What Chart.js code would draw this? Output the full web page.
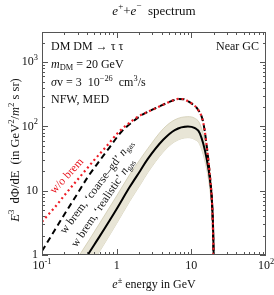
<!DOCTYPE html>
<html><head><meta charset="utf-8">
<script src="https://cdn.jsdelivr.net/npm/chart.js@4.4.1/dist/chart.umd.min.js"></script>
<style>html,body{margin:0;padding:0;background:#fff}#c{display:block}</style>
</head><body>
<canvas id="c" width="274" height="295"></canvas>
<script>
// ---- data ----
const energyNoBrem = [0.1,0.15,0.2,0.32,0.5,0.75,1,1.11,1.6,2.1,2.8,4.2,5.5,6.7,8,9.1,10.5,12,14,15,16.2,17,18,19,19.7,20];
const fluxNoBrem   = [3.3,5.6,8.5,16.3,30,51,76,86,122,150,175,218,250,268,265,245,220,190,133,90,46,28,14,6,1.5,0.5];
const energyCoarse = [0.1,0.15,0.2,0.3,0.41,0.6,0.8,1.15,1.6,2.1,2.8,4.2,5.5,6.7,8,9.1,10.5,12,14,15,16.2,17,18,19,19.7,20];
const fluxCoarse   = [1.15,2.5,4.3,9.1,16.3,30,47,82,116,147,175,218,250,268,265,245,220,190,133,90,46,28,14,6,1.5,0.5];
const energyReal   = [0.3,0.42,0.6,1,1.5,2.07,2.6,4.2,6,9,11,13,16,18,19,19.8,20];
const fluxReal     = [0.56,1.05,2.0,5.2,11.5,20.5,31,62,88,100,95,78,32,13,6,1.5,0.6];
const fluxRealHigh = [0.9,1.65,3.2,8.3,18,31,45,92,127,142,135,110,45,17,7.5,1.7,0.7];
const fluxRealLow  = [0.33,0.61,1.17,3.1,6.9,12.4,19,40,58,67,63,52,22,9,4.5,1.2,0.5];
const xTickValues = [0.1,1,10,100];
const xTickLabels = [['10','-1'],['1',''],['10',''],['10','2']];
const yTickValues = [1,10,100,1000];
const yTickLabels = [['1',''],['10',''],['10','2'],['10','3']];

const pts = (xs, ys) => xs.map((x,i)=>({x, y: ys[i]}));
const SERIF = '"Liberation Serif","DejaVu Serif",serif';

function rich(ctx, x, y, parts, align, size){
  const fontFor = s => {
    const sz = (s==='sup'||s==='sub'||s==='supi') ? size*0.7 : size;
    const it = (s==='i'||s==='supi') ? 'italic ' : '';
    return it + sz + 'px ' + SERIF;
  };
  let w = 0;
  parts.forEach(([t,s])=>{ ctx.font = fontFor(s); w += ctx.measureText(t).width; });
  let cx = align==='center' ? x - w/2 : (align==='right' ? x - w : x);
  ctx.textBaseline = 'middle';
  ctx.textAlign = 'left';
  parts.forEach(([t,s])=>{
    ctx.font = fontFor(s);
    let dy = 0;
    if (s==='sup'||s==='supi') dy = -size*0.38;
    if (s==='sub') dy = size*0.25;
    ctx.fillText(t, cx, y+dy);
    cx += ctx.measureText(t).width;
  });
}

const decor = {
  id: 'decor',
  afterDatasetsDraw(chart){
    const ctx = chart.ctx, a = chart.chartArea;
    const xs = chart.scales.x, ys = chart.scales.y;
    ctx.save();
    ctx.strokeStyle = '#555'; ctx.lineWidth = 1;
    ctx.strokeRect(a.left+0.5, a.top+0.5, a.right-a.left-1, a.bottom-a.top-1);
    ctx.beginPath();
    for (let d=-1; d<2; d++){
      for (let m=1; m<10; m++){
        const v = m*Math.pow(10,d);
        const px = Math.round(xs.getPixelForValue(v))+0.5;
        const L = m===1 ? 6 : 3;
        ctx.moveTo(px, a.bottom); ctx.lineTo(px, a.bottom-L);
        ctx.moveTo(px, a.top); ctx.lineTo(px, a.top+L);
      }
    }
    for (let d=0; d<4; d++){
      for (let m=1; m<10; m++){
        const v = m*Math.pow(10,d);
        if (v > ys.max) break;
        const py = Math.round(ys.getPixelForValue(v))+0.5;
        const L = m===1 ? 6 : 3;
        ctx.moveTo(a.left, py); ctx.lineTo(a.left+L, py);
        ctx.moveTo(a.right, py); ctx.lineTo(a.right-L, py);
      }
    }
    ctx.stroke();
    ctx.fillStyle = '#111';
    xTickValues.forEach((v,i)=>{
      const px = xs.getPixelForValue(v);
      const [b,e] = xTickLabels[i];
      rich(ctx, px, 266, e ? [[b,''],[e,'sup']] : [[b,'']], 'center', 12);
    });
    yTickValues.forEach((v,i)=>{
      const py = ys.getPixelForValue(v);
      const [b,e] = yTickLabels[i];
      rich(ctx, 38, py, e ? [[b,''],[e,'sup']] : [[b,'']], 'right', 12);
    });
    rich(ctx, 154, 12, [['e','i'],['+','sup'],['+',''],['e','i'],['\u2212','sup'],['  spectrum','']], 'center', 13);
    rich(ctx, 154, 285, [['e','i'],['\u00b1','sup'],[' energy in GeV','']], 'center', 12);
    ctx.save(); ctx.translate(16, 150); ctx.rotate(-Math.PI/2);
    rich(ctx, 0, 0, [['E','i'],['3','sup'],['  d\u03a6/dE  (in GeV',''],['2','sup'],['/',''],['m','i'],['2','sup'],[' s sr)','']], 'center', 12.5);
    ctx.restore();
    rich(ctx, 51, 47, [['DM DM \u2192 \u03c4 \u03c4','']], 'left', 12);
    rich(ctx, 51, 65, [['m','i'],['DM','sub'],[' = 20 GeV','']], 'left', 12);
    rich(ctx, 51, 83, [['\u03c3','i'],['v = 3  10',''],['\u221226','sup'],['  cm',''],['3','sup'],['/s','']], 'left', 12);
    rich(ctx, 51, 100, [['NFW, MED','']], 'left', 12);
    rich(ctx, 259, 47, [['Near GC','']], 'right', 12);
    ctx.save(); ctx.translate(67,176); ctx.rotate(-48*Math.PI/180); ctx.fillStyle='#e8141e';
    rich(ctx, 0, 0, [['w/o brem','']], 'center', 11.5); ctx.restore();
    ctx.save(); ctx.translate(97,187); ctx.rotate(-53*Math.PI/180); ctx.fillStyle='#111';
    rich(ctx, 0, 0, [['w brem, \u2018coarse\u2013gd\u2019 ',''],['n','i'],['gas','sub']], 'center', 11.5); ctx.restore();
    ctx.save(); ctx.translate(103,203); ctx.rotate(-56*Math.PI/180); ctx.fillStyle='#111';
    rich(ctx, 0, 0, [['w brem, \u2018realistic\u2019 ',''],['n','i'],['gas','sub']], 'center', 11.5); ctx.restore();
    ctx.restore();
  }
};

new Chart(document.getElementById('c'), {
  type: 'line',
  data: { datasets: [
    { data: pts(energyNoBrem, fluxNoBrem), borderColor: '#ee1c25', borderWidth: 2.2, borderDash: [2,3], pointRadius: 0, fill: false, cubicInterpolationMode: 'monotone' },
    { data: pts(energyCoarse, fluxCoarse), borderColor: '#000', borderWidth: 2, borderDash: [6,4], pointRadius: 0, fill: false, cubicInterpolationMode: 'monotone' },
    { data: pts(energyReal, fluxReal), borderColor: '#000', borderWidth: 2, pointRadius: 0, fill: false, cubicInterpolationMode: 'monotone' },
    { data: pts(energyReal, fluxRealHigh), borderColor: '#cfcab0', borderWidth: 0.8, backgroundColor: '#e8e5d6', pointRadius: 0, fill: 4, cubicInterpolationMode: 'monotone' },
    { data: pts(energyReal, fluxRealLow), borderColor: '#cfcab0', borderWidth: 0.8, pointRadius: 0, fill: false, cubicInterpolationMode: 'monotone' }
  ]},
  options: {
    responsive: false, animation: false, devicePixelRatio: 1,
    layout: { padding: { top: 32, right: 8, left: 0, bottom: 0 } },
    plugins: { legend: { display: false }, tooltip: { enabled: false } },
    scales: {
      x: { type: 'logarithmic', min: 0.1, max: 100, grid: { display: false }, border: { display: false },
           ticks: { display: false }, afterFit(s){ s.height = 40; } },
      y: { type: 'logarithmic', min: 1, max: 2950, grid: { display: false }, border: { display: false },
           ticks: { display: false }, afterFit(s){ s.width = 42; } }
    }
  },
  plugins: [decor]
});
</script>
</body></html>
